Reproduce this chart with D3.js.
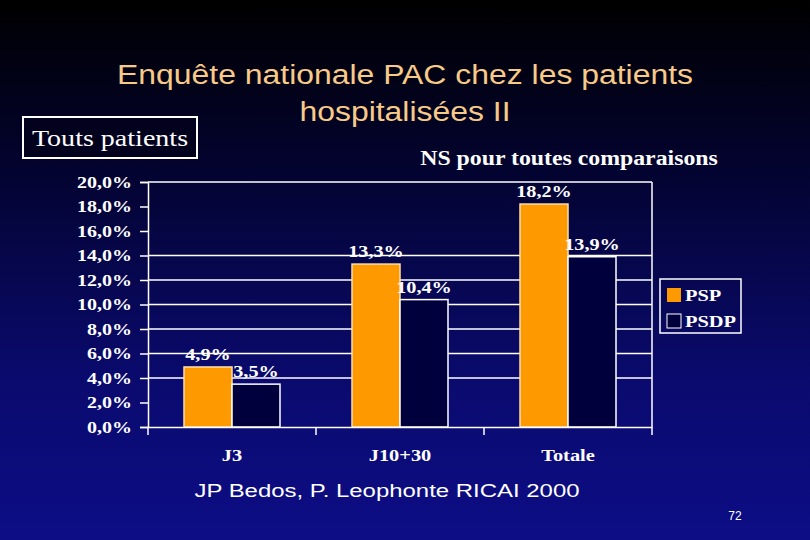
<!DOCTYPE html>
<html>
<head>
<meta charset="utf-8">
<script src="https://cdn.jsdelivr.net/npm/d3@7"></script>
<style>
  body { margin: 0; background: #000; }
  svg { display: block; }
</style>
</head>
<body>
<script>
var width = 810;
var height = 540;

// data
var categories = ["J3", "J10+30", "Totale"];
var series = ["PSP", "PSDP"];
var psp = [4.9, 13.3, 18.2];
var psdp = [3.5, 10.4, 13.9];
var yTicks = [0, 2, 4, 6, 8, 10, 12, 14, 16, 18, 20];
var gridValues = [4, 6, 8, 10, 12, 14, 20];

var colors = { PSP: "#ff9900", PSDP: "#00003c" };
var serif = "'Liberation Serif', 'Times New Roman', serif";
var sans = "'Liberation Sans', Arial, sans-serif";

// the slide text is stretched sideways, so squash it back with a scale
function place (sel, x, y, sx) {
  return sel.attr("transform", "translate(" + x + "," + y + ") scale(" + sx + ",1)");
}

var svg = d3.select("body").append("svg")
  .attr("width", width)
  .attr("height", height);

var defs = svg.append("defs");
var grad = defs.append("linearGradient")
  .attr("id", "bg")
  .attr("x1", 0).attr("y1", 0).attr("x2", 0).attr("y2", 1);
grad.append("stop").attr("offset", "0%").attr("stop-color", "#000000");
grad.append("stop").attr("offset", "30%").attr("stop-color", "#03032e");
grad.append("stop").attr("offset", "70%").attr("stop-color", "#0a0a6e");
grad.append("stop").attr("offset", "100%").attr("stop-color", "#0d0d86");

svg.append("rect")
  .attr("width", width).attr("height", height)
  .style("fill", "url(#bg)");

// title
var titleLines = ["Enquête nationale PAC chez les patients", "hospitalisées II"];
svg.selectAll(".title")
  .data(titleLines)
  .enter().append("text")
  .attr("text-anchor", "middle")
  .attr("transform", function (d, i) { return "translate(405," + (84 + i * 37) + ") scale(1.14,1)"; })
  .style("font-family", sans)
  .style("font-size", "28px")
  .style("fill", "#f8ca88")
  .text(function (d) { return d; });

// boxed label
svg.append("rect")
  .attr("x", 23).attr("y", 117).attr("width", 174).attr("height", 41)
  .style("fill", "#02021e")
  .style("stroke", "#fff")
  .style("stroke-width", 2);
place(svg.append("text"), 110, 146, 1.22)
  .attr("text-anchor", "middle")
  .style("font-family", serif)
  .style("font-size", "23px")
  .style("fill", "#fff")
  .text("Touts patients");

place(svg.append("text"), 569, 165, 1.19)
  .attr("text-anchor", "middle")
  .style("font-family", serif)
  .style("font-weight", "bold")
  .style("font-size", "20px")
  .style("fill", "#fff")
  .text("NS pour toutes comparaisons");

// scales
var x = d3.scaleBand()
  .domain(categories)
  .range([148, 652]);

var xs = d3.scaleBand()
  .domain(series)
  .range([0, x.bandwidth()])
  .paddingInner(0)
  .paddingOuter(0.75);

var y = d3.scaleLinear()
  .domain([0, 20])
  .range([427, 182]);

var plot = svg.append("g");

// grid lines
plot.selectAll(".grid")
  .data(gridValues)
  .enter().append("line")
  .attr("x1", 148).attr("x2", 652)
  .attr("y1", function (d) { return y(d); })
  .attr("y2", function (d) { return y(d); })
  .style("stroke", "#fff")
  .style("stroke-width", 1.5);

// right border
plot.append("line")
  .attr("x1", 652).attr("x2", 652)
  .attr("y1", y(20)).attr("y2", y(0))
  .style("stroke", "#fff")
  .style("stroke-width", 1.5);

// bars
var rows = categories.map(function (c, i) {
  return [{ cat: c, s: "PSP", v: psp[i] }, { cat: c, s: "PSDP", v: psdp[i] }];
});

var group = plot.selectAll(".cat")
  .data(rows)
  .enter().append("g")
  .attr("transform", function (d) { return "translate(" + x(d[0].cat) + ",0)"; });

group.selectAll("rect")
  .data(function (d) { return d; })
  .enter().append("rect")
  .attr("x", function (d) { return xs(d.s); })
  .attr("width", xs.bandwidth())
  .attr("y", function (d) { return y(d.v); })
  .attr("height", function (d) { return y(0) - y(d.v); })
  .style("fill", function (d) { return colors[d.s]; })
  .style("stroke", function (d) { return d.s == "PSP" ? "#ffe0b0" : "#fff"; })
  .style("stroke-width", 1.5);

group.selectAll(".lbl")
  .data(function (d) { return d; })
  .enter().append("text")
  .attr("text-anchor", "middle")
  .attr("transform", function (d) {
    return "translate(" + (xs(d.s) + xs.bandwidth() / 2) + "," + (y(d.v) - 7) + ") scale(1.19,1)";
  })
  .style("font-family", serif)
  .style("font-weight", "bold")
  .style("font-size", "17px")
  .style("fill", "#fff")
  .text(function (d) { return d3.format(".1f")(d.v).replace(".", ",") + "%"; });

// y axis
var yAxis = d3.axisLeft(y)
  .tickValues(yTicks)
  .tickSize(8)
  .tickPadding(8)
  .tickFormat(function (d) { return d3.format(".1f")(d).replace(".", ",") + "%"; });

var ya = svg.append("g")
  .attr("transform", "translate(148,0)")
  .call(yAxis);

// x axis
var xAxis = d3.axisBottom(x)
  .tickValues([])
  .tickSizeOuter(0);

var xa = svg.append("g")
  .attr("transform", "translate(0," + y(0) + ")")
  .call(xAxis);

var bounds = [148].concat(categories.map(function (c) { return x(c) + x.bandwidth(); }));
xa.selectAll(".sep")
  .data(bounds)
  .enter().append("line")
  .attr("x1", function (d) { return d; })
  .attr("x2", function (d) { return d; })
  .attr("y1", 0).attr("y2", 8)
  .style("stroke", "#fff")
  .style("stroke-width", 1.5);

xa.selectAll(".cl")
  .data(categories)
  .enter().append("text")
  .attr("text-anchor", "middle")
  .attr("transform", function (d) { return "translate(" + (x(d) + x.bandwidth() / 2) + ",34) scale(1.2,1)"; })
  .style("font-family", serif)
  .style("font-weight", "bold")
  .style("font-size", "17px")
  .style("fill", "#fff")
  .text(function (d) { return d; });

[ya, xa].forEach(function (a) {
  a.selectAll(".domain").style("stroke", "#fff").style("stroke-width", 1.5);
  a.selectAll(".tick line").style("stroke", "#fff").style("stroke-width", 1.5);
});
ya.selectAll(".tick text")
  .attr("x", -16 / 1.25)
  .attr("transform", "scale(1.25,1)")
  .style("fill", "#fff")
  .style("font-family", serif)
  .style("font-weight", "bold")
  .style("font-size", "16px");

// legend
var legend = svg.append("g").attr("transform", "translate(660,279)");
legend.append("rect")
  .attr("width", 81).attr("height", 54)
  .style("fill", "none")
  .style("stroke", "#fff")
  .style("stroke-width", 1.5);

var item = legend.selectAll(".item")
  .data(series)
  .enter().append("g")
  .attr("transform", function (d, i) { return "translate(7," + (9 + i * 26) + ")"; });

item.append("rect")
  .attr("width", 14).attr("height", 14)
  .style("fill", function (d) { return colors[d]; })
  .style("stroke", function (d) { return d == "PSP" ? "none" : "#fff"; })
  .style("stroke-width", 1);

item.append("text")
  .attr("transform", "translate(18,13) scale(1.2,1)")
  .style("font-family", serif)
  .style("font-weight", "bold")
  .style("font-size", "17px")
  .style("fill", "#fff")
  .text(function (d) { return d; });

// footer
place(svg.append("text"), 387, 497, 1.26)
  .attr("text-anchor", "middle")
  .style("font-family", sans)
  .style("font-size", "19px")
  .style("fill", "#fff")
  .text("JP Bedos, P. Leophonte RICAI 2000");

svg.append("text")
  .attr("x", 735).attr("y", 520)
  .attr("text-anchor", "middle")
  .style("font-family", sans)
  .style("font-size", "12px")
  .style("fill", "#fff")
  .text("72");
</script>
</body>
</html>
